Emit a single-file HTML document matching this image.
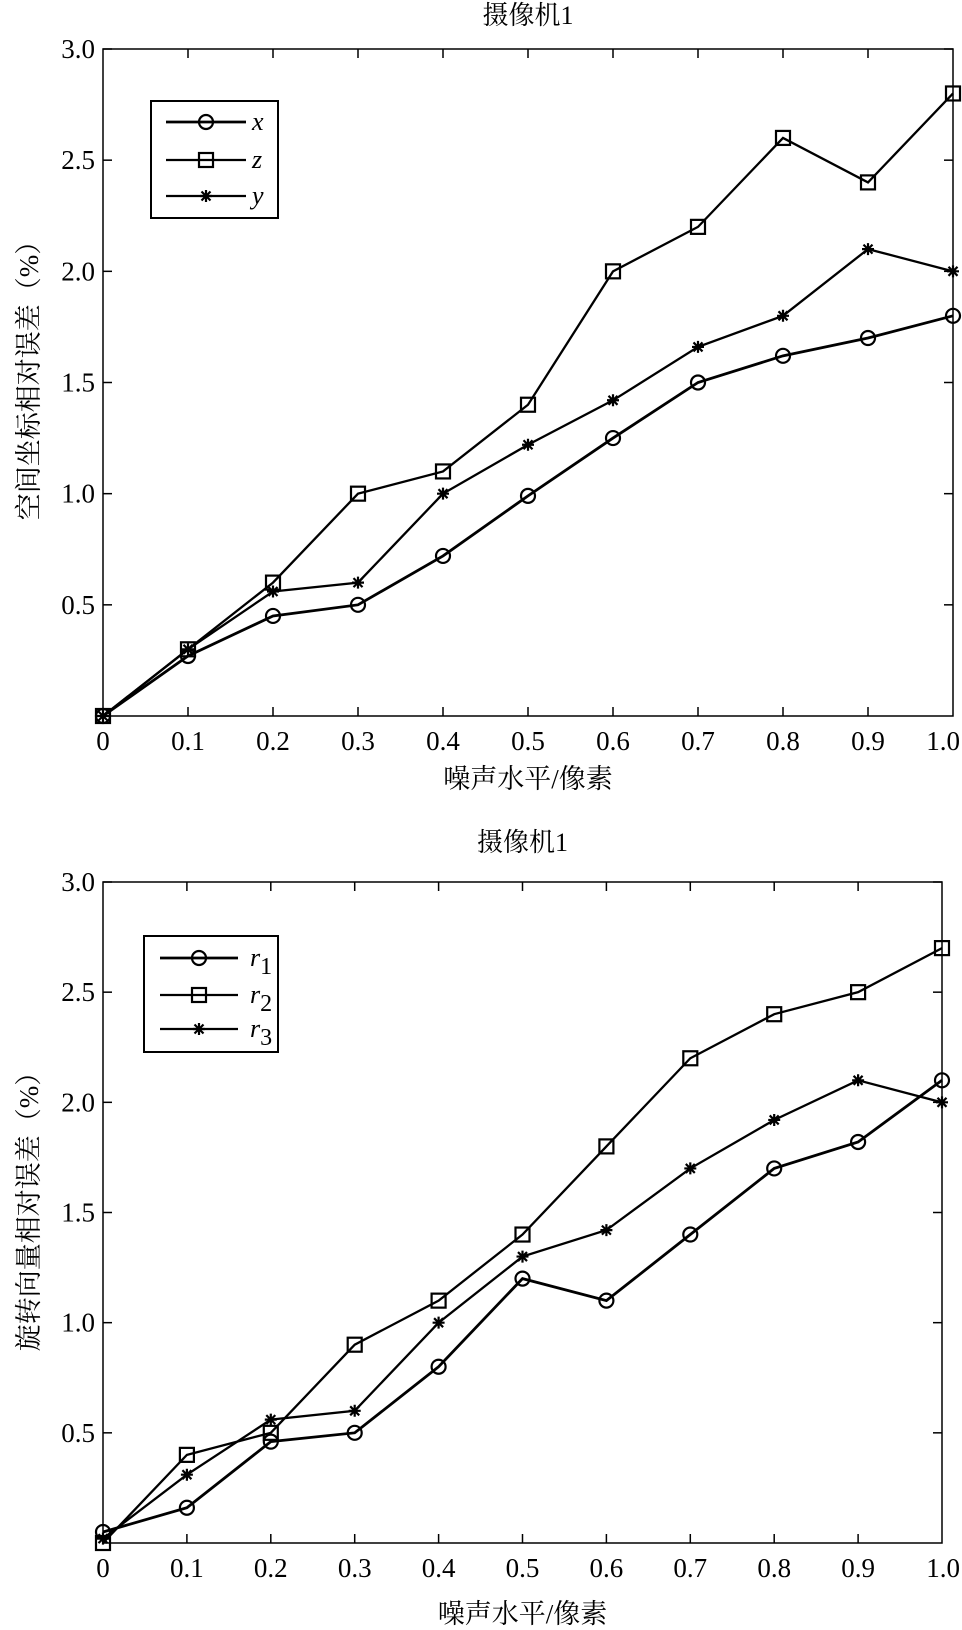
<!DOCTYPE html>
<html><head><meta charset="utf-8"><style>
html,body{margin:0;padding:0;background:#fff;}
svg{display:block;}
text{font-family:"Liberation Serif","Noto Serif CJK SC",serif;fill:#000;}
</style></head><body>
<svg id="c" width="962" height="1630" xmlns="http://www.w3.org/2000/svg"></svg>
<script>
const xCats=[0,0.1,0.2,0.3,0.4,0.5,0.6,0.7,0.8,0.9,1.0];
const xTickLabels=["0","0.1","0.2","0.3","0.4","0.5","0.6","0.7","0.8","0.9","1.0"];
const yTicks=[0.5,1.0,1.5,2.0,2.5,3.0];
const yTickLabels=["0.5","1.0","1.5","2.0","2.5","3.0"];
const topX=[0,0.27,0.45,0.5,0.72,0.99,1.25,1.5,1.62,1.7,1.8];
const topZ=[0,0.3,0.6,1.0,1.1,1.4,2.0,2.2,2.6,2.4,2.8];
const topY=[0,0.3,0.56,0.6,1.0,1.22,1.42,1.66,1.8,2.1,2.0];
const botR1=[0.05,0.16,0.46,0.5,0.8,1.2,1.1,1.4,1.7,1.82,2.1];
const botR2=[0,0.4,0.5,0.9,1.1,1.4,1.8,2.2,2.4,2.5,2.7];
const botR3=[0.02,0.31,0.56,0.6,1.0,1.3,1.42,1.7,1.92,2.1,2.0];

const NS="http://www.w3.org/2000/svg";
const svg=document.getElementById('c');
function mk(tag,attrs,parent,txt){const e=document.createElementNS(NS,tag);for(const k in attrs)e.setAttribute(k,attrs[k]);if(txt!==undefined)e.textContent=txt;(parent||svg).appendChild(e);return e;}

function marker(g,type,cx,cy){
  let m;
  if(type==='o'){m=mk('circle',{cx:cx,cy:cy,r:7,fill:'none',stroke:'#000','stroke-width':2.2},g);}
  else if(type==='s'){m=mk('rect',{x:cx-7,y:cy-7,width:14,height:14,fill:'none',stroke:'#000','stroke-width':2.2},g);}
  else{m=mk('path',{d:`M${cx-6},${cy}H${cx+6}M${cx},${cy-6}V${cy+6}M${cx-4.5},${cy-4.5}L${cx+4.5},${cy+4.5}M${cx-4.5},${cy+4.5}L${cx+4.5},${cy-4.5}`,stroke:'#000','stroke-width':2.2,fill:'none'},g);}
  
  
}

function panel(o){
  const g=mk('g',{});
  
  
  const xs=v=>o.L+(v-0)/(1.0)*(o.R-o.L);
  const ys=v=>o.B-(v/3.0)*(o.B-o.T);
  const ax=mk('rect',{x:o.L,y:o.T,width:o.R-o.L,height:o.B-o.T,fill:'none',stroke:'#000','stroke-width':1.5},g);
  
  xCats.forEach((v,i)=>{
    const x=xs(v);
    if(i>0&&i<xCats.length-1){mk('line',{x1:x,y1:o.B,x2:x,y2:o.B-9,stroke:'#000','stroke-width':1.5},g);mk('line',{x1:x,y1:o.T,x2:x,y2:o.T+9,stroke:'#000','stroke-width':1.5},g);}
    const last=(i===xCats.length-1)&&(x+20>960);
    const t=mk('text',{x:last?960:x,y:o.B+34,'text-anchor':last?'end':'middle','font-size':27},g,xTickLabels[i]);
    
  });
  yTicks.forEach((v,i)=>{
    const y=ys(v);
    mk('line',{x1:o.L,y1:y,x2:o.L+9,y2:y,stroke:'#000','stroke-width':1.5},g);
    mk('line',{x1:o.R,y1:y,x2:o.R-9,y2:y,stroke:'#000','stroke-width':1.5},g);
    const t=mk('text',{x:o.L-8,y:y+9,'text-anchor':'end','font-size':27},g,yTickLabels[i]);
    
  });
  o.series.forEach(s=>{
    const sg=mk('g',{},g);
    
    
    mk('polyline',{points:s.data.map((v,i)=>xs(xCats[i])+','+ys(v)).join(' '),fill:'none',stroke:'#000','stroke-width':s.w},sg);
    s.data.forEach((v,i)=>marker(sg,s.m,xs(xCats[i]),ys(v)));
  });
  const t=mk('text',{x:(o.L+o.R)/2,y:o.titleY,'text-anchor':'middle','font-size':26},g,'摄像机1');
  
  const xl=mk('text',{x:(o.L+o.R)/2,y:o.xlY,'text-anchor':'middle','font-size':27},g,'噪声水平/像素');
  
  const yl=mk('text',{x:0,y:0,'text-anchor':'middle','font-size':27,transform:`translate(38,${o.ylY}) rotate(-90)`},g,o.ylab);
  
  const lg=mk('g',{},g);
  
  const lb=o.leg;
  mk('rect',{x:lb.x,y:lb.y,width:lb.w,height:lb.h,fill:'#fff',stroke:'#000','stroke-width':2},lg);
  o.series.forEach((s,i)=>{
    const y=lb.rows[i];
    const e=mk('g',{},lg);
    
    mk('line',{x1:lb.l1,y1:y,x2:lb.l2,y2:y,stroke:'#000','stroke-width':s.w},e);
    marker(e,s.m,(lb.l1+lb.l2)/2,y);
    const tx=mk('text',{x:lb.tx,y:y+8,'font-size':26,'font-style':'italic'},e,s.base);
    if(s.sub){mk('tspan',{'font-style':'normal','font-size':24,dy:8},tx,s.sub);}
  });
}

panel({name:'top-panel',L:103,R:953,T:49,B:716,titleY:24,xlY:788,ylY:374,ylab:'空间坐标相对误差（%）',
  series:[{label:'x',base:'x',m:'o',w:2.8,data:topX},{label:'z',base:'z',m:'s',w:2.3,data:topZ},{label:'y',base:'y',m:'*',w:2.3,data:topY}],
  leg:{x:151,y:101,w:127,h:117,rows:[122,160,196],l1:166,l2:246,tx:252}});
panel({name:'bottom-panel',L:103,R:942,T:882,B:1543,titleY:851,xlY:1623,ylY:1205,ylab:'旋转向量相对误差（%）',
  series:[{label:'r1',base:'r',sub:'1',m:'o',w:2.8,data:botR1},{label:'r2',base:'r',sub:'2',m:'s',w:2.3,data:botR2},{label:'r3',base:'r',sub:'3',m:'*',w:2.3,data:botR3}],
  leg:{x:144,y:936,w:134,h:116,rows:[958,995,1029],l1:160,l2:238,tx:250}});
</script>
</body></html>
